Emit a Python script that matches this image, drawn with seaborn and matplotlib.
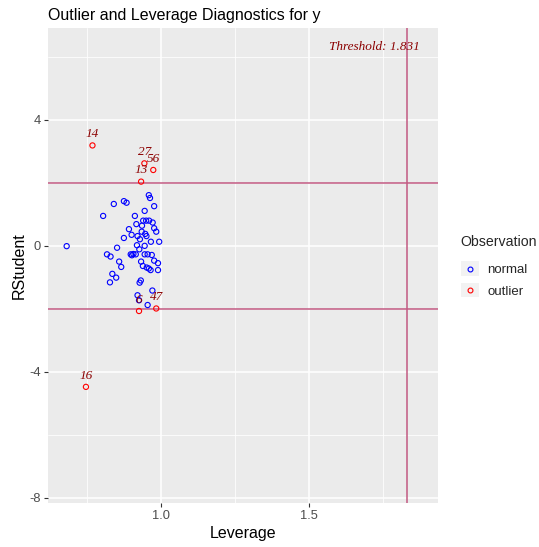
import numpy as np
import pandas as pd
import matplotlib
matplotlib.use("Agg")
import matplotlib.pyplot as plt
import seaborn as sns
from matplotlib.lines import Line2D
from matplotlib.patches import Rectangle
from matplotlib.legend_handler import HandlerLine2D

# normal observations
normal_lev = [0.683, 0.842, 0.876, 0.885, 0.806, 0.960, 0.964, 0.978, 0.946, 0.913,
              0.918, 0.941, 0.951, 0.961, 0.973, 0.937, 0.978, 0.893, 0.985, 0.936,
              0.902, 0.922, 0.948, 0.952, 0.876, 0.930, 0.967, 0.995, 0.946, 0.920,
              0.853, 0.928, 0.819, 0.831, 0.899, 0.903, 0.908, 0.916, 0.946, 0.956,
              0.970, 0.860, 0.867, 0.934, 0.978, 0.991, 0.940, 0.953, 0.960, 0.966,
              0.991, 0.837, 0.850, 0.829, 0.933, 0.929, 0.922, 0.927, 0.972, 0.956]
normal_rst = [-0.01, 1.33, 1.42, 1.37, 0.95, 1.61, 1.52, 1.26, 1.11, 0.95,
              0.69, 0.80, 0.80, 0.80, 0.74, 0.64, 0.56, 0.53, 0.45, 0.45,
              0.35, 0.31, 0.38, 0.31, 0.25, 0.21, 0.13, 0.13, 0.00, 0.02,
              -0.06, -0.11, -0.27, -0.34, -0.27, -0.30, -0.26, -0.27, -0.27, -0.27,
              -0.29, -0.50, -0.67, -0.50, -0.47, -0.55, -0.64, -0.69, -0.72, -0.77,
              -0.77, -0.89, -1.01, -1.16, -1.10, -1.17, -1.57, -1.73, -1.42, -1.88]

# outliers
outlier_id = ["14", "27", "13", "56", "6", "47", "16"]
outlier_lev = [0.770, 0.945, 0.934, 0.975, 0.927, 0.985, 0.748]
outlier_rst = [3.19, 2.62, 2.04, 2.41, -2.07, -1.99, -4.48]

threshold = 1.831

df = pd.DataFrame({
    "leverage": normal_lev + outlier_lev,
    "rstudent": normal_rst + outlier_rst,
    "Observation": ["normal"] * len(normal_lev) + ["outlier"] * len(outlier_lev),
})

sns.set_theme(style="darkgrid", rc={
    "axes.facecolor": "#EBEBEB",
    "grid.color": "white",
    "axes.edgecolor": "none",
    "xtick.bottom": True,
    "ytick.left": True,
})
plt.rcParams["font.family"] = ["Liberation Sans", "DejaVu Sans"]
plt.rcParams["axes.unicode_minus"] = False

fig = plt.figure(figsize=(5.39, 5.47), dpi=100)
ax = fig.add_axes([0.089, 0.0804, 0.7236, 0.8684])

palette = {"normal": "blue", "outlier": "red"}
sns.scatterplot(data=df, x="leverage", y="rstudent", hue="Observation",
                palette=palette, s=14, linewidth=0.8, legend=False, ax=ax, zorder=3)
coll = ax.collections[0]
coll.set_edgecolors(coll.get_facecolors())
coll.set_facecolors("none")

maroon = "#C25A82"
ax.axhline(2, color=maroon, lw=1.1, zorder=2)
ax.axhline(-2, color=maroon, lw=1.1, zorder=2)
ax.axvline(threshold, color=maroon, lw=1.1, zorder=2)

for lab, x, y in zip(outlier_id, outlier_lev, outlier_rst):
    ax.annotate(lab, (x, y), xytext=(0, 6), textcoords="offset points",
                ha="center", va="baseline", fontsize=9.5, color="#8B0000",
                family=["Liberation Serif"], style="italic", zorder=4)

ax.text(1.874, 6.33, "Threshold: %.3f" % threshold, ha="right", va="center",
        fontsize=9.5, color="#8B0000", family=["Liberation Serif"], style="italic")

ax.set_xlim(0.62, 1.935)
ax.set_ylim(-8.17, 6.92)
ax.set_xticks([1.0, 1.5])
ax.set_xticklabels(["1.0", "1.5"])
ax.set_yticks([-8, -4, 0, 4])
ax.set_xticks([0.75, 1.25, 1.75], minor=True)
ax.set_yticks([-6, -2, 2, 6], minor=True)
ax.grid(True, which="major", color="white", lw=1.1)
ax.grid(True, which="minor", color="white", lw=0.55)
ax.tick_params(axis="both", which="major", labelsize=9.3, labelcolor="#4D4D4D",
               color="#333333", length=3, width=0.8, pad=2)
ax.tick_params(axis="both", which="minor", length=0)
for s in ax.spines.values():
    s.set_visible(False)

ax.set_xlabel("Leverage", fontsize=11.5, color="black", labelpad=3)
ax.set_ylabel("RStudent", fontsize=11.5, color="black", labelpad=2)
ax.set_title("Outlier and Leverage Diagnostics for y", loc="left",
             fontsize=11.5, color="black", pad=6)


class KeyHandler(HandlerLine2D):
    def create_artists(self, legend, orig_handle, xdescent, ydescent,
                       width, height, fontsize, trans):
        arts = super().create_artists(legend, orig_handle, xdescent, ydescent,
                                      width, height, fontsize, trans)
        rect = Rectangle((-xdescent, -ydescent - 2), width, height + 4,
                         facecolor="#F2F2F2", edgecolor="none", transform=trans)
        return [rect] + list(arts)


handles = [Line2D([], [], ls="none", marker="o", ms=3.5, mfc="none",
                  mec=palette[k], mew=0.8, label=k) for k in ["normal", "outlier"]]
leg = fig.legend(handles=handles, title="Observation", loc="upper left",
                 bbox_to_anchor=(0.855, 0.571), frameon=False, fontsize=9.5,
                 title_fontsize=10.2, handlelength=1.4, handletextpad=0.6,
                 labelspacing=0.7, alignment="left", borderpad=0,
                 borderaxespad=0, handler_map={Line2D: KeyHandler()})
leg._legend_box.sep = 11

fig.savefig("out.png", dpi=100)
